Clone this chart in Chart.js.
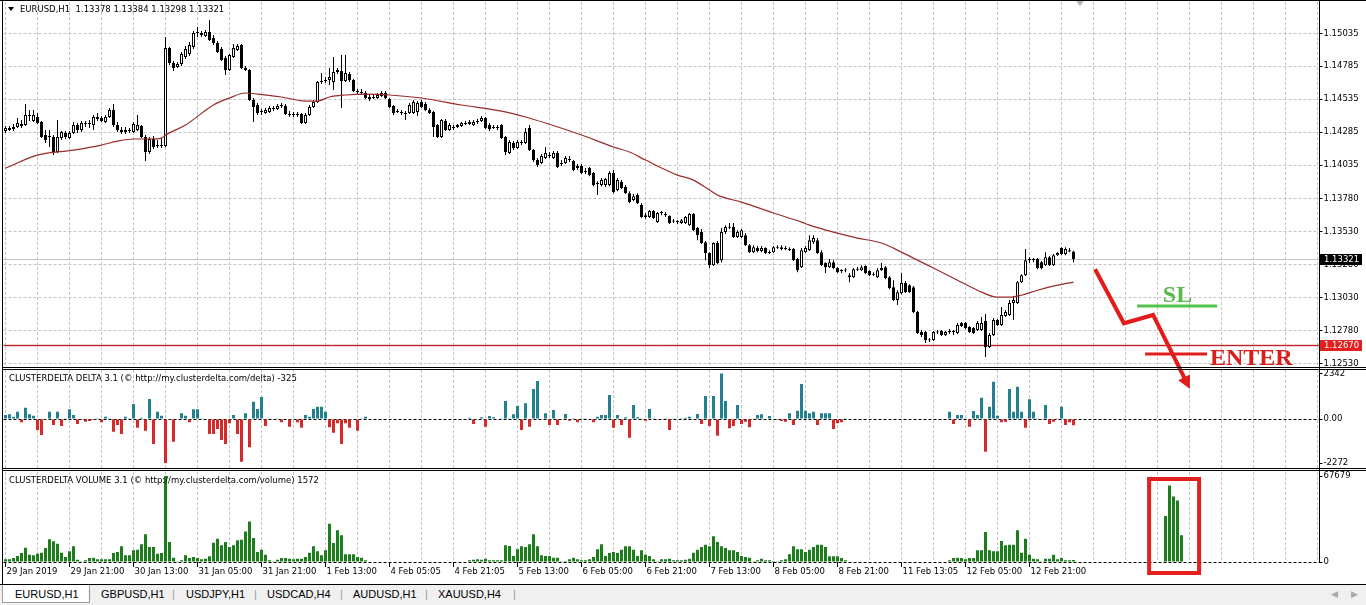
<!DOCTYPE html>
<html lang="en">
<head>
<meta charset="utf-8">
<title>EURUSD,H1</title>
<script src="https://cdn.jsdelivr.net/npm/chart.js@4.4.1/dist/chart.umd.min.js"></script>
<style>
  html, body { margin: 0; padding: 0; background: #fff; }
  #screen { position: relative; width: 1366px; height: 605px; overflow: hidden; background: #fff; }
  #screen canvas { position: absolute; left: 0; }
  .rule { position: absolute; background: #000; }
  .cap { position: absolute; font: 8.5px/10px "DejaVu Sans", sans-serif; color: #000; white-space: pre; }
  #tri { position: absolute; left: 8px; top: 7px; width: 0; height: 0;
         border-left: 3.5px solid transparent; border-right: 3.5px solid transparent; border-top: 4px solid #000; }
  #shift { position: absolute; left: 1076px; top: 1px; width: 0; height: 0;
           border-left: 4px solid transparent; border-right: 4px solid transparent; border-top: 5px solid #b4b4b4; }
  #tabbar { position: absolute; left: 0; top: 585px; width: 1366px; height: 20px; background: #f0f0f0;
            font: 11px/18px "Liberation Sans", Arial, sans-serif; color: #000; }
  #tabbar span { position: absolute; top: 0; white-space: pre; }
  #tabbar .active { left: 2px; width: 86px; height: 17px; background: #fff; border: 1px solid #a0a0a0; border-top: none; }
  #tabbar .sep { color: #9a9a9a; }
  #tabbar .nav { color: #a8a8a8; font-size: 9px; }
</style>
</head>
<body>
<div id="screen">
  <canvas id="volCanvas" width="1366" height="114" style="top:466px;width:1366px;height:114px"></canvas>
  <canvas id="deltaCanvas" width="1366" height="106" style="top:364px;width:1366px;height:106px"></canvas>
  <canvas id="priceCanvas" width="1366" height="402" style="top:0;width:1366px;height:402px"></canvas>

  <div class="rule" style="left:0;top:0;width:1366px;height:1px"></div>
  <div class="rule" style="left:2px;top:0;width:1px;height:585px"></div>
  <div class="rule" style="left:1319px;top:0;width:1px;height:563px"></div>
  <div class="rule" style="left:2px;top:367px;width:1364px;height:1px"></div>
  <div class="rule" style="left:2px;top:369px;width:1364px;height:1px"></div>
  <div class="rule" style="left:2px;top:468px;width:1364px;height:1px"></div>
  <div class="rule" style="left:2px;top:470px;width:1364px;height:1px"></div>
  <div class="rule" style="left:0;top:584px;width:1366px;height:1px"></div>

  <div id="tri"></div>
  <div id="shift"></div>
  <div class="cap" id="priceTitle" style="left:20px;top:4px"></div>
  <div class="cap" id="deltaTitle" style="left:9px;top:373px"></div>
  <div class="cap" id="volTitle" style="left:9px;top:475px"></div>

  <div id="tabbar">
    <span class="active"></span>
    <span style="left:15px">EURUSD,H1</span>
    <span class="sep" style="left:88px">|</span>
    <span style="left:101px">GBPUSD,H1</span>
    <span class="sep" style="left:172px">|</span>
    <span style="left:186px">USDJPY,H1</span>
    <span class="sep" style="left:254px">|</span>
    <span style="left:267px">USDCAD,H4</span>
    <span class="sep" style="left:340px">|</span>
    <span style="left:353px">AUDUSD,H1</span>
    <span class="sep" style="left:425px">|</span>
    <span style="left:438px">XAUUSD,H4</span>
    <span class="sep" style="left:513px">|</span>
    <span class="nav" style="left:1331px">&#9664;</span>
    <span class="nav" style="left:1351px">&#9654;</span>
  </div>
</div>

<script>
// ---- data ----
var SLOTS = 329; // bar slots across the chart window (4 px each)

var timeLabels = ['29 Jan 2019', '29 Jan 21:00', '30 Jan 13:00', '31 Jan 05:00', '31 Jan 21:00',
    '1 Feb 13:00', '4 Feb 05:05', '4 Feb 21:05', '5 Feb 13:00', '6 Feb 05:00', '6 Feb 21:00',
    '7 Feb 13:00', '8 Feb 05:00', '8 Feb 21:00', '11 Feb 13:05', '12 Feb 05:00', '12 Feb 21:00'];

var priceTicks = [1.15035, 1.14785, 1.14535, 1.14285, 1.14035, 1.13780, 1.13530, 1.13280, 1.13030, 1.12780, 1.12530];
var deltaTicks = [2342, 0, -2272];
var volumeTicks = [67679, 0];

var opens = [
    1.14293, 1.14301, 1.14309, 1.14324, 1.14347, 1.14339, 1.14415, 1.14369, 1.14400, 1.14362,
    1.14263, 1.14248, 1.14248, 1.14134, 1.14240, 1.14278, 1.14240, 1.14278, 1.14339, 1.14301,
    1.14347, 1.14354, 1.14339, 1.14400, 1.14392, 1.14362, 1.14400, 1.14453, 1.14339, 1.14301,
    1.14286, 1.14301, 1.14286, 1.14301, 1.14331, 1.14248, 1.14134, 1.14233, 1.14179, 1.14187,
    1.14179, 1.14923, 1.14810, 1.14779, 1.14802, 1.14855, 1.14878, 1.14931, 1.15037, 1.15037,
    1.15014, 1.15045, 1.14999, 1.14961, 1.14916, 1.14848, 1.14757, 1.14855, 1.14908, 1.14946,
    1.14772, 1.14757, 1.14529, 1.14491, 1.14438, 1.14430, 1.14438, 1.14468, 1.14461, 1.14483,
    1.14483, 1.14423, 1.14415, 1.14423, 1.14423, 1.14354, 1.14415, 1.14476, 1.14514, 1.14665,
    1.14673, 1.14681, 1.14665, 1.14741, 1.14749, 1.14673, 1.14726, 1.14681, 1.14597, 1.14590,
    1.14582, 1.14552, 1.14544, 1.14544, 1.14559, 1.14582, 1.14537, 1.14483, 1.14438, 1.14438,
    1.14430, 1.14430, 1.14430, 1.14438, 1.14514, 1.14499, 1.14453, 1.14438, 1.14339, 1.14248,
    1.14369, 1.14301, 1.14324, 1.14324, 1.14331, 1.14354, 1.14347, 1.14339, 1.14362, 1.14369,
    1.14392, 1.14339, 1.14316, 1.14324, 1.14339, 1.14248, 1.14126, 1.14202, 1.14164, 1.14210,
    1.14202, 1.14316, 1.14149, 1.14073, 1.14050, 1.14088, 1.14111, 1.14088, 1.14126, 1.14043,
    1.14050, 1.14081, 1.14065, 1.14012, 1.14027, 1.13982, 1.14012, 1.13974, 1.13891, 1.13883,
    1.13883, 1.13883, 1.13974, 1.13845, 1.13906, 1.13868, 1.13822, 1.13769, 1.13807, 1.13731,
    1.13655, 1.13640, 1.13686, 1.13602, 1.13671, 1.13663, 1.13648, 1.13610, 1.13602, 1.13595,
    1.13595, 1.13579, 1.13663, 1.13557, 1.13526, 1.13450, 1.13367, 1.13275, 1.13443, 1.13313,
    1.13526, 1.13564, 1.13564, 1.13488, 1.13488, 1.13503, 1.13427, 1.13374, 1.13405, 1.13382,
    1.13405, 1.13367, 1.13374, 1.13412, 1.13412, 1.13397, 1.13397, 1.13397, 1.13321, 1.13260,
    1.13374, 1.13389, 1.13450, 1.13465, 1.13374, 1.13291, 1.13260, 1.13298, 1.13253, 1.13230,
    1.13237, 1.13199, 1.13184, 1.13245, 1.13237, 1.13268, 1.13230, 1.13207, 1.13184, 1.13237,
    1.13260, 1.13184, 1.13108, 1.13011, 1.13063, 1.13139, 1.13123, 1.13108, 1.12919, 1.12768,
    1.12768, 1.12707, 1.12707, 1.12768, 1.12775, 1.12745, 1.12768, 1.12775, 1.12760, 1.12836,
    1.12836, 1.12806, 1.12798, 1.12783, 1.12783, 1.12851, 1.12654, 1.12745, 1.12859, 1.12821,
    1.12889, 1.12897, 1.12988, 1.12988, 1.13146, 1.13199, 1.13313, 1.13313, 1.13321, 1.13298,
    1.13275, 1.13336, 1.13275, 1.13351, 1.13405, 1.13359, 1.13389, 1.13378
];
var highs = [
    1.14331, 1.14331, 1.14347, 1.14392, 1.14377, 1.14499, 1.14453, 1.14453, 1.14430, 1.14369,
    1.14301, 1.14301, 1.14263, 1.14377, 1.14293, 1.14293, 1.14293, 1.14362, 1.14354, 1.14369,
    1.14369, 1.14377, 1.14415, 1.14430, 1.14407, 1.14415, 1.14468, 1.14499, 1.14362, 1.14324,
    1.14324, 1.14316, 1.14362, 1.14415, 1.14339, 1.14263, 1.14248, 1.14255, 1.14225, 1.14240,
    1.15007, 1.14931, 1.14825, 1.14817, 1.14893, 1.14939, 1.14969, 1.15052, 1.15083, 1.15052,
    1.15060, 1.15136, 1.15022, 1.14976, 1.14931, 1.14863, 1.14878, 1.14954, 1.14954, 1.14954,
    1.14787, 1.14764, 1.14544, 1.14506, 1.14461, 1.14468, 1.14483, 1.14483, 1.14499, 1.14506,
    1.14499, 1.14445, 1.14438, 1.14438, 1.14430, 1.14430, 1.14491, 1.14529, 1.14673, 1.14734,
    1.14703, 1.14772, 1.14855, 1.14772, 1.14870, 1.14870, 1.14741, 1.14688, 1.14612, 1.14612,
    1.14597, 1.14574, 1.14574, 1.14582, 1.14597, 1.14597, 1.14544, 1.14491, 1.14461, 1.14453,
    1.14445, 1.14506, 1.14529, 1.14521, 1.14529, 1.14514, 1.14468, 1.14445, 1.14347, 1.14385,
    1.14385, 1.14354, 1.14339, 1.14347, 1.14362, 1.14369, 1.14377, 1.14377, 1.14385, 1.14407,
    1.14400, 1.14354, 1.14339, 1.14339, 1.14347, 1.14255, 1.14225, 1.14217, 1.14225, 1.14225,
    1.14316, 1.14339, 1.14157, 1.14088, 1.14119, 1.14172, 1.14134, 1.14141, 1.14141, 1.14073,
    1.14103, 1.14103, 1.14073, 1.14043, 1.14043, 1.14012, 1.14020, 1.13982, 1.13913, 1.13936,
    1.13936, 1.13989, 1.13997, 1.13936, 1.13921, 1.13883, 1.13837, 1.13815, 1.13822, 1.13746,
    1.13671, 1.13693, 1.13693, 1.13678, 1.13686, 1.13678, 1.13655, 1.13625, 1.13617, 1.13625,
    1.13648, 1.13671, 1.13671, 1.13564, 1.13549, 1.13458, 1.13374, 1.13450, 1.13458, 1.13557,
    1.13579, 1.13595, 1.13595, 1.13541, 1.13549, 1.13519, 1.13435, 1.13427, 1.13420, 1.13420,
    1.13412, 1.13389, 1.13420, 1.13427, 1.13427, 1.13420, 1.13412, 1.13405, 1.13329, 1.13405,
    1.13420, 1.13503, 1.13503, 1.13481, 1.13389, 1.13298, 1.13321, 1.13313, 1.13260, 1.13245,
    1.13253, 1.13215, 1.13253, 1.13260, 1.13275, 1.13275, 1.13237, 1.13222, 1.13253, 1.13291,
    1.13268, 1.13192, 1.13161, 1.13085, 1.13215, 1.13154, 1.13131, 1.13116, 1.12927, 1.12783,
    1.12775, 1.12722, 1.12775, 1.12783, 1.12783, 1.12775, 1.12791, 1.12783, 1.12836, 1.12844,
    1.12844, 1.12813, 1.12806, 1.12851, 1.12881, 1.12904, 1.12760, 1.12874, 1.12866, 1.12957,
    1.12935, 1.13011, 1.13032, 1.13154, 1.13207, 1.13397, 1.13336, 1.13329, 1.13329, 1.13306,
    1.13374, 1.13344, 1.13359, 1.13374, 1.13412, 1.13412, 1.13405, 1.13384
];
var lows = [
    1.14278, 1.14293, 1.14293, 1.14316, 1.14316, 1.14331, 1.14369, 1.14362, 1.14347, 1.14240,
    1.14202, 1.14172, 1.14111, 1.14126, 1.14225, 1.14233, 1.14233, 1.14271, 1.14278, 1.14286,
    1.14324, 1.14316, 1.14301, 1.14369, 1.14362, 1.14354, 1.14392, 1.14324, 1.14286, 1.14271,
    1.14271, 1.14278, 1.14278, 1.14293, 1.14240, 1.14065, 1.14119, 1.14157, 1.14164, 1.14164,
    1.14172, 1.14794, 1.14749, 1.14772, 1.14787, 1.14840, 1.14863, 1.14916, 1.15007, 1.15007,
    1.15007, 1.14976, 1.14946, 1.14885, 1.14825, 1.14719, 1.14749, 1.14848, 1.14901, 1.14764,
    1.14749, 1.14521, 1.14362, 1.14415, 1.14415, 1.14423, 1.14430, 1.14445, 1.14453, 1.14468,
    1.14415, 1.14400, 1.14400, 1.14400, 1.14347, 1.14347, 1.14407, 1.14468, 1.14506, 1.14650,
    1.14658, 1.14643, 1.14605, 1.14726, 1.14468, 1.14665, 1.14665, 1.14590, 1.14574, 1.14567,
    1.14537, 1.14521, 1.14537, 1.14537, 1.14552, 1.14537, 1.14468, 1.14415, 1.14430, 1.14415,
    1.14377, 1.14423, 1.14423, 1.14407, 1.14468, 1.14445, 1.14423, 1.14248, 1.14240, 1.14240,
    1.14293, 1.14293, 1.14301, 1.14316, 1.14324, 1.14339, 1.14339, 1.14331, 1.14347, 1.14362,
    1.14309, 1.14293, 1.14309, 1.14301, 1.14233, 1.14111, 1.14119, 1.14149, 1.14157, 1.14187,
    1.14195, 1.14141, 1.14058, 1.14020, 1.14043, 1.14081, 1.14088, 1.14081, 1.14012, 1.14027,
    1.14043, 1.14058, 1.13989, 1.13997, 1.13967, 1.13967, 1.13951, 1.13875, 1.13807, 1.13875,
    1.13868, 1.13875, 1.13822, 1.13837, 1.13853, 1.13815, 1.13746, 1.13761, 1.13739, 1.13633,
    1.13625, 1.13633, 1.13625, 1.13595, 1.13655, 1.13640, 1.13587, 1.13595, 1.13587, 1.13587,
    1.13587, 1.13572, 1.13534, 1.13465, 1.13435, 1.13313, 1.13253, 1.13268, 1.13283, 1.13298,
    1.13511, 1.13549, 1.13481, 1.13481, 1.13481, 1.13420, 1.13367, 1.13367, 1.13374, 1.13374,
    1.13359, 1.13359, 1.13367, 1.13397, 1.13389, 1.13389, 1.13382, 1.13306, 1.13222, 1.13253,
    1.13367, 1.13382, 1.13435, 1.13359, 1.13268, 1.13215, 1.13253, 1.13245, 1.13215, 1.13215,
    1.13222, 1.13146, 1.13177, 1.13230, 1.13230, 1.13207, 1.13192, 1.13192, 1.13177, 1.13230,
    1.13169, 1.13093, 1.13003, 1.12973, 1.13055, 1.13063, 1.13063, 1.12912, 1.12753, 1.12730,
    1.12684, 1.12692, 1.12699, 1.12753, 1.12737, 1.12737, 1.12753, 1.12745, 1.12753, 1.12806,
    1.12791, 1.12760, 1.12753, 1.12775, 1.12775, 1.12578, 1.12646, 1.12737, 1.12813, 1.12813,
    1.12881, 1.12889, 1.12859, 1.12980, 1.13139, 1.13192, 1.13291, 1.13298, 1.13245, 1.13245,
    1.13268, 1.13268, 1.13268, 1.13344, 1.13351, 1.13351, 1.13374, 1.13298
];
var closes = [
    1.14316, 1.14316, 1.14324, 1.14354, 1.14331, 1.14415, 1.14407, 1.14415, 1.14354, 1.14248,
    1.14225, 1.14255, 1.14134, 1.14248, 1.14286, 1.14248, 1.14278, 1.14339, 1.14301, 1.14354,
    1.14354, 1.14347, 1.14400, 1.14385, 1.14369, 1.14400, 1.14453, 1.14339, 1.14301, 1.14286,
    1.14301, 1.14293, 1.14347, 1.14339, 1.14248, 1.14134, 1.14233, 1.14172, 1.14187, 1.14179,
    1.14923, 1.14810, 1.14772, 1.14802, 1.14878, 1.14916, 1.14946, 1.15037, 1.15045, 1.15022,
    1.15045, 1.14984, 1.14961, 1.14893, 1.14832, 1.14757, 1.14870, 1.14923, 1.14939, 1.14772,
    1.14757, 1.14529, 1.14476, 1.14430, 1.14445, 1.14453, 1.14468, 1.14461, 1.14483, 1.14491,
    1.14423, 1.14415, 1.14423, 1.14415, 1.14354, 1.14415, 1.14476, 1.14514, 1.14665, 1.14673,
    1.14681, 1.14703, 1.14741, 1.14757, 1.14673, 1.14734, 1.14681, 1.14597, 1.14590, 1.14582,
    1.14544, 1.14537, 1.14552, 1.14567, 1.14582, 1.14544, 1.14476, 1.14430, 1.14445, 1.14430,
    1.14423, 1.14491, 1.14514, 1.14506, 1.14476, 1.14453, 1.14430, 1.14324, 1.14248, 1.14377,
    1.14301, 1.14339, 1.14316, 1.14339, 1.14354, 1.14347, 1.14362, 1.14362, 1.14369, 1.14392,
    1.14316, 1.14309, 1.14324, 1.14316, 1.14240, 1.14134, 1.14210, 1.14164, 1.14210, 1.14202,
    1.14286, 1.14149, 1.14073, 1.14035, 1.14103, 1.14126, 1.14103, 1.14126, 1.14020, 1.14050,
    1.14088, 1.14073, 1.13997, 1.14027, 1.13974, 1.13989, 1.13959, 1.13883, 1.13898, 1.13921,
    1.13929, 1.13974, 1.13830, 1.13921, 1.13860, 1.13822, 1.13754, 1.13799, 1.13746, 1.13640,
    1.13640, 1.13686, 1.13633, 1.13671, 1.13678, 1.13655, 1.13595, 1.13606, 1.13610, 1.13617,
    1.13640, 1.13663, 1.13541, 1.13503, 1.13443, 1.13367, 1.13275, 1.13443, 1.13291, 1.13526,
    1.13564, 1.13560, 1.13488, 1.13526, 1.13541, 1.13427, 1.13374, 1.13412, 1.13382, 1.13405,
    1.13367, 1.13374, 1.13412, 1.13408, 1.13397, 1.13405, 1.13389, 1.13313, 1.13237, 1.13389,
    1.13405, 1.13465, 1.13481, 1.13367, 1.13275, 1.13260, 1.13298, 1.13253, 1.13222, 1.13234,
    1.13234, 1.13184, 1.13245, 1.13241, 1.13260, 1.13215, 1.13199, 1.13203, 1.13237, 1.13253,
    1.13177, 1.13101, 1.13011, 1.13070, 1.13139, 1.13070, 1.13070, 1.12919, 1.12760, 1.12745,
    1.12707, 1.12703, 1.12768, 1.12764, 1.12745, 1.12768, 1.12775, 1.12768, 1.12821, 1.12813,
    1.12798, 1.12768, 1.12760, 1.12836, 1.12836, 1.12654, 1.12745, 1.12859, 1.12821, 1.12897,
    1.12919, 1.12988, 1.13011, 1.13146, 1.13199, 1.13313, 1.13321, 1.13321, 1.13253, 1.13253,
    1.13336, 1.13275, 1.13351, 1.13367, 1.13359, 1.13397, 1.13378, 1.13321
];

// moving average read at a few bars: [bar index, price]
var maPoints = [
    [0, 1.14012], [8, 1.14111], [17, 1.14149], [24, 1.14187], [28, 1.14217], [32, 1.14233],
    [36, 1.14233], [39, 1.14240], [40, 1.14263], [45, 1.14339], [52, 1.14491], [56, 1.14544],
    [60, 1.14582], [63, 1.14574], [69, 1.14552], [75, 1.14521], [78, 1.14521], [81, 1.14552],
    [85, 1.14567], [90, 1.14574], [96, 1.14567], [104, 1.14544], [114, 1.14491], [124, 1.14445],
    [130, 1.14400], [135, 1.14354], [144, 1.14263], [152, 1.14172], [156, 1.14134], [160, 1.14073],
    [168, 1.13959], [172, 1.13921], [176, 1.13845], [178, 1.13807], [184, 1.13754], [192, 1.13671],
    [199, 1.13602], [201, 1.13579], [207, 1.13526], [213, 1.13481], [219, 1.13443], [224, 1.13374],
    [229, 1.13298], [232, 1.13253], [238, 1.13161], [243, 1.13085], [248, 1.13032], [251, 1.13032],
    [254, 1.13047], [258, 1.13085], [263, 1.13123], [267, 1.13146]
];

var delta = [
    206, 241, 120, 378, -172, 585, 241, 172, -568, -826,
    -52, 378, -310, 378, -361, 34, 499, 206, -258, -34,
    -138, -103, -52, 34, -172, 120, 34, -654, -310, -774,
    120, 34, 774, -447, 69, -602, 1032, -1290, 378, 172,
    -2272, -40, -1170, 20, 292, 172, -172, 499, 499, 15,
    -20, -774, -774, -516, -1084, -1290, -224, 206, -774, -2202,
    292, -1462, 894, 516, 1135, -361, 10, -15, 34, -172,
    -30, -396, 20, -172, -447, 206, 120, 516, 636, 636,
    378, -430, -705, -224, -1290, -224, -447, -30, -602, 15,
    120,
    null, null, null, null, null,
    null, null, null, null, null,
    null, null, null, null, null,
    null, null, null, null, null,
    null, null, null, null, null,
    69, -258, 20, 86, -396, 155, 86, 20, 15, 929,
    34, 241, 671, -568, 808, -396, 1548, 1961, 20, 292,
    -310, 464, -310, -20, 258, -86, 15, -172, 10, 34,
    -10, -172, 120, 206, 206, 1238, -447, 206, -310, 86,
    -963, 722, 86, 15, -86, 516, 10, -10, -20, 10,
    -568, 10, 20, 10, 69, 120, -10, 258, -258, 1187,
    -361, 1187, -860, 2342, 929, -482, -361, 722, -258, -138,
    -430, 10, 206, 241, 30, 155, 20, -10, -103, -138,
    292, -310, 430, 1806, 430, 292, 378, -310, 292, 292,
    292, -516, -224, -172, 10,
    null, null, null, null, null,
    null, null, null, null, null,
    null, null, null, null, null,
    null, null, null, null, null,
    null, null, null, null, null,
    378, -258, 206, 206, 15, -396, 413, 206, 1101, -1686,
    636, 1926, 172, -172, -138, 1548, 378, 1668, 378, -447,
    1015, 378, 34, -10, 722, -258, -138, 15, 636, -310,
    -172, -325
];

var volume = [
    2100, 2100, 3140, 4720, 7070, 11270, 5760, 5240, 6550, 7340,
    11000, 17820, 16240, 14410, 7340, 3930, 8380, 12310, 1830, 260,
    1310, 3140, 3410, 2100, 2100, 2100, 2100, 7070, 7860, 12310,
    5240, 5240, 9170, 9690, 13890, 21750, 11790, 11790, 6550, 7070,
    67679, 15720, 3410, 200, 1310, 5240, 3140, 3930, 3140, 2100,
    2620, 4450, 15200, 18340, 13100, 15720, 11790, 13100, 17030, 17550,
    24100, 31960, 18860, 7860, 9690, 5760, 1310, 200, 1830, 3140,
    3140, 2620, 2100, 2620, 2620, 3930, 7340, 12310, 8380, 5240,
    9170, 30130, 14930, 24890, 20960, 6030, 6030, 6030, 3930, 3410,
    1310,
    null, null, null, null, null,
    null, null, null, null, null,
    null, null, null, null, null,
    null, null, null, null, null,
    null, null, null, null, null,
    1310, 1830, 2100, 1830, 2620, 1310, 1310, 1310, 1310, 13100,
    12580, 4720, 9960, 12310, 11790, 13890, 21750, 12310, 5240, 4720,
    4720, 3410, 3410, 520, 790, 2100, 3410, 2100, 1310, 1310,
    2100, 3930, 9960, 13890, 4720, 7070, 7860, 7070, 9690, 12310,
    12310, 9690, 4720, 9170, 5760, 4720, 2100, 520, 2100, 2100,
    2620, 1310, 1310, 1310, 1830, 2620, 7340, 9690, 11790, 13620,
    12310, 20170, 15720, 12310, 11000, 9170, 9170, 7860, 4720, 3930,
    3410, 520, 1310, 2620, 1310, 1310, 790, 520, 1310, 2100,
    6030, 12310, 9960, 9960, 7860, 9690, 11790, 13620, 13620, 11790,
    4450, 4450, 4450, 3140, 1310,
    null, null, null, null, null,
    null, null, null, null, null,
    null, null, null, null, null,
    null, null, null, null, null,
    null, null, null, null, null,
    1310, 3140, 3400, 3140, 2100, 3140, 3140, 9170, 9170, 23580,
    9170, 8380, 8380, 16510, 13100, 13620, 13620, 24890, 7340, 18340,
    5760, 2620, 2100, 520, 2620, 2620, 5760, 2100, 3140, 1310,
    1310, 1572
];

// the boxed volume bars pasted to the right of the last candle
var boxVolume = [36160, 60260, 51610, 48470, 20960];
var boxVolumeStart = 290;

var levelPrice = 1.12670;

// hand drawn trade sketch, in bar index / price units
var arrowPath = [[272.4, 1.13244], [279.6, 1.12834], [286.9, 1.12897], [296.1, 1.12335]];
var slMark = { from: 282.9, to: 302.9, price: 1.12965, textAt: 293, textPrice: 1.12996 };
var enterMark = { from: 284.9, to: 300.4, price: 1.12601, textAt: 301.1, textPrice: 1.12518 };
var volumeBox = { from: 285.9, to: 298.4, top: 65320, bottom: -8657 };

// ---- chart setup ----
var last = closes.length - 1;
document.getElementById('priceTitle').textContent = 'EURUSD,H1  ' + opens[last].toFixed(5) + ' ' +
    highs[last].toFixed(5) + ' ' + lows[last].toFixed(5) + ' ' + closes[last].toFixed(5);
document.getElementById('deltaTitle').textContent =
    'CLUSTERDELTA DELTA 3.1 (\u00a9 http://my.clusterdelta.com/delta) ' + delta[last];
document.getElementById('volTitle').textContent =
    'CLUSTERDELTA VOLUME 3.1 (\u00a9 http://my.clusterdelta.com/volume) ' + volume[last];

Chart.defaults.font.family = '"DejaVu Sans", sans-serif';
Chart.defaults.font.size = 8.5;
Chart.defaults.color = '#000';
Chart.defaults.animation = false;

var slots = [];
for (var s = 0; s < SLOTS; s++) slots.push(s);

var clear = 'rgba(0,0,0,0)';
var gridGrey = '#c4c4c4';

function timeAxis(withLabels) {
    return {
        type: 'category',
        offset: true,
        border: { display: false, dash: [3, 2] },
        grid: {
            offset: false,
            color: function (c) { return c.index % 8 === 0 ? gridGrey : clear; },
            drawTicks: withLabels,
            tickLength: 5,
            tickColor: function (c) { return (c.index % 16 === 0 && timeLabels[c.index / 16]) ? '#000' : clear; },
            tickBorderDash: []
        },
        ticks: withLabels ? {
            autoSkip: false, maxRotation: 0, minRotation: 0, align: 'start', padding: 0, labelOffset: 1,
            callback: function (v, i) { return (i % 16 === 0 && timeLabels[i / 16]) || ''; }
        } : { display: false },
        afterFit: function (sc) { sc.height = withLabels ? 18 : 0; sc.paddingLeft = 0; sc.paddingRight = 0; }
    };
}

function valueAxis(min, max, values, fmt, gridColor) {
    return {
        position: 'right',
        min: min,
        max: max,
        afterBuildTicks: function (sc) { sc.ticks = values.map(function (v) { return { value: v }; }); },
        border: { display: false, dash: [3, 2] },
        grid: { color: gridColor, drawTicks: true, tickLength: 3, tickColor: '#000', tickBorderDash: [] },
        ticks: { autoSkip: false, padding: 1, callback: fmt },
        afterFit: function (sc) { sc.width = 46.5; sc.paddingTop = 0; sc.paddingBottom = 0; }
    };
}

function zeroOnly(c) { return c.tick && c.tick.value === 0 ? '#000' : clear; }

var common = {
    responsive: false,
    devicePixelRatio: 1,
    events: [],
    plugins: { legend: { display: false }, tooltip: { enabled: false } }
};

function opts(padding, scales) {
    return Object.assign({}, common, { layout: { padding: padding }, scales: scales });
}

var priceMarks = {
    id: 'priceMarks',
    beforeDatasetsDraw: function (chart) {
        var ctx = chart.ctx, a = chart.chartArea, y = chart.scales.y;
        function rule(price, color, halo) {
            var py = Math.round(y.getPixelForValue(price)) + 0.5;
            ctx.beginPath();
            ctx.moveTo(a.left, py);
            ctx.lineTo(a.right, py);
            if (halo) {
                ctx.strokeStyle = halo;
                ctx.lineWidth = 3;
                ctx.stroke();
            }
            ctx.strokeStyle = color;
            ctx.lineWidth = 1;
            ctx.stroke();
        }
        ctx.save();
        rule(closes[last], '#c0c0c0');
        rule(levelPrice, '#b3262a', 'rgba(235,120,120,0.35)');
        ctx.restore();
    },
    afterDraw: function (chart) {
        var ctx = chart.ctx, a = chart.chartArea, x = chart.scales.x, y = chart.scales.y;
        function pt(i, p) { return [x.getPixelForValue(i), y.getPixelForValue(p)]; }
        ctx.save();

        // price tags on the axis
        function tag(price, bg) {
            var py = Math.round(y.getPixelForValue(price));
            ctx.fillStyle = bg;
            ctx.fillRect(Math.round(a.right), py - 5, 42, 11);
            ctx.fillStyle = '#fff';
            ctx.font = '8.5px "DejaVu Sans", sans-serif';
            ctx.textAlign = 'left';
            ctx.textBaseline = 'middle';
            ctx.fillText(price.toFixed(5), Math.round(a.right) + 4, py + 0.5);
        }
        tag(closes[last], '#000');
        tag(levelPrice, '#e3201e');

        // SL and ENTER marks
        function mark(m, lineColor, textColor, text, align) {
            var p1 = pt(m.from, m.price), p2 = pt(m.to, m.price), t = pt(m.textAt, m.textPrice);
            ctx.strokeStyle = lineColor;
            ctx.lineWidth = 3;
            ctx.beginPath();
            ctx.moveTo(p1[0], p1[1]);
            ctx.lineTo(p2[0], p1[1]);
            ctx.stroke();
            ctx.fillStyle = textColor;
            ctx.font = 'bold 24px "Liberation Serif", serif';
            ctx.textAlign = align;
            ctx.textBaseline = 'alphabetic';
            ctx.fillText(text, t[0], t[1]);
        }
        mark(slMark, '#52c24c', '#5bb84c', 'SL', 'center');
        mark(enterMark, '#e31c1c', '#dd1c1c', 'ENTER', 'left');

        // zigzag arrow
        var pts = arrowPath.map(function (p) { return pt(p[0], p[1]); });
        var tip = pts[pts.length - 1], prev = pts[pts.length - 2];
        var ang = Math.atan2(tip[1] - prev[1], tip[0] - prev[0]);
        var head = 13, half = 6.5;
        ctx.strokeStyle = '#e41b1b';
        ctx.fillStyle = '#e41b1b';
        ctx.lineWidth = 4;
        ctx.lineJoin = 'miter';
        ctx.beginPath();
        pts.forEach(function (p, i) {
            var px = p[0], py = p[1];
            if (i === pts.length - 1) { px -= Math.cos(ang) * head * 0.8; py -= Math.sin(ang) * head * 0.8; }
            if (i === 0) ctx.moveTo(px, py); else ctx.lineTo(px, py);
        });
        ctx.stroke();
        var bx = tip[0] - head * Math.cos(ang), by = tip[1] - head * Math.sin(ang);
        ctx.beginPath();
        ctx.moveTo(tip[0], tip[1]);
        ctx.lineTo(bx + half * Math.sin(ang), by - half * Math.cos(ang));
        ctx.lineTo(bx - half * Math.sin(ang), by + half * Math.cos(ang));
        ctx.closePath();
        ctx.fill();
        ctx.restore();
    }
};

var volumeMarks = {
    id: 'volumeMarks',
    afterDraw: function (chart) {
        var ctx = chart.ctx, x = chart.scales.x, y = chart.scales.y;
        var x1 = x.getPixelForValue(volumeBox.from), x2 = x.getPixelForValue(volumeBox.to);
        var y1 = y.getPixelForValue(volumeBox.top), y2 = y.getPixelForValue(volumeBox.bottom);
        ctx.save();
        ctx.strokeStyle = '#e3201e';
        ctx.lineWidth = 4;
        ctx.strokeRect(x1, y1, x2 - x1, y2 - y1);
        ctx.restore();
    }
};

// price window: candles as two floating bar sets (wick + body) and the moving average
new Chart(document.getElementById('priceCanvas'), {
    type: 'bar',
    data: {
        labels: slots,
        datasets: [
            {
                label: 'wick',
                data: highs.map(function (h, i) { return [lows[i], h]; }),
                backgroundColor: '#000',
                barThickness: 1,
                inflateAmount: 0,
                grouped: false,
                order: 3
            },
            {
                label: 'body',
                data: opens.map(function (o, i) { return [o, closes[i]]; }),
                backgroundColor: function (c) { return closes[c.dataIndex] >= opens[c.dataIndex] ? '#fff' : '#000'; },
                borderColor: '#000',
                borderWidth: 1,
                borderSkipped: false,
                barThickness: 3,
                minBarLength: 1,
                inflateAmount: 0,
                grouped: false,
                order: 2
            },
            {
                type: 'line',
                label: 'MA',
                data: maPoints.map(function (p) { return { x: p[0], y: p[1] }; }),
                borderColor: '#9a2c2c',
                borderWidth: 1.2,
                pointRadius: 0,
                cubicInterpolationMode: 'monotone',
                order: 1
            }
        ]
    },
    options: opts({ left: 3.5, top: 2, bottom: 35, right: 0 }, {
        x: timeAxis(false),
        y: valueAxis(1.12502, 1.15273, priceTicks, function (v) { return v.toFixed(5); }, gridGrey)
    }),
    plugins: [priceMarks]
});

// delta window
new Chart(document.getElementById('deltaCanvas'), {
    type: 'bar',
    data: {
        labels: slots,
        datasets: [{
            label: 'delta',
            data: delta,
            backgroundColor: function (c) { return c.raw >= 0 ? '#23808c' : '#d42a2a'; },
            barThickness: 3,
            inflateAmount: 0
        }]
    },
    options: opts({ left: 3.5, top: 6, bottom: 2, right: 0 }, {
        x: timeAxis(false),
        y: valueAxis(-2528, 2528, deltaTicks, function (v) { return v === 0 ? '0.00' : String(v); }, zeroOnly)
    })
});

// volume window
new Chart(document.getElementById('volCanvas'), {
    type: 'bar',
    data: {
        labels: slots,
        datasets: [
            {
                label: 'volume',
                data: volume,
                backgroundColor: '#1d7d1d',
                barThickness: 3,
                inflateAmount: 0,
                grouped: false
            },
            {
                label: 'boxed volume',
                data: boxVolume.map(function (v, k) { return { x: boxVolumeStart + k, y: v }; }),
                backgroundColor: '#1d7d1d',
                barThickness: 3,
                inflateAmount: 0,
                grouped: false
            }
        ]
    },
    options: opts({ left: 3.5, top: 6, bottom: 0, right: 0 }, {
        x: timeAxis(true),
        y: valueAxis(0, 70830, volumeTicks, function (v) { return String(v); }, zeroOnly)
    }),
    plugins: [volumeMarks]
});
</script>
</body>
</html>
